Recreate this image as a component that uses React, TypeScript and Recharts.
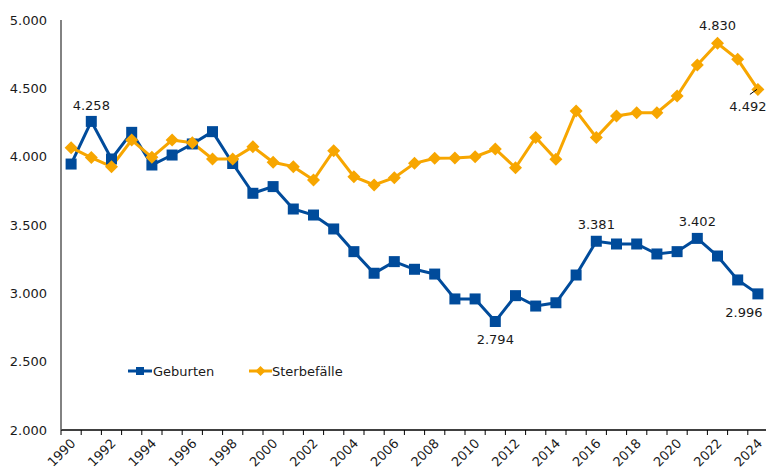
import React from 'react';
import { LineChart, Line, XAxis, YAxis, Legend, LabelList } from 'recharts';

const years = [
  1990, 1991, 1992, 1993, 1994, 1995, 1996, 1997, 1998, 1999,
  2000, 2001, 2002, 2003, 2004, 2005, 2006, 2007, 2008, 2009,
  2010, 2011, 2012, 2013, 2014, 2015, 2016, 2017, 2018, 2019,
  2020, 2021, 2022, 2023, 2024,
];

const geburten = [
  3946, 4258, 3983, 4178, 3939, 4012, 4093, 4183, 3950, 3732,
  3781, 3617, 3573, 3471, 3305, 3147, 3232, 3176, 3141, 2959,
  2959, 2794, 2983, 2907, 2931, 3134, 3381, 3361, 3361, 3288,
  3305, 3402, 3273, 3098, 2996,
];

const sterbefaelle = [
  4066, 3993, 3927, 4122, 3995, 4122, 4102, 3983, 3983, 4073,
  3959, 3927, 3829, 4044, 3853, 3793, 3846, 3951, 3988, 3990,
  4000, 4056, 3919, 4141, 3981, 4334, 4141, 4298, 4322, 4322,
  4444, 4671, 4830, 4712, 4492,
];

const yTicks = [2000, 2500, 3000, 3500, 4000, 4500, 5000];

const geburtenLabelYears = [1991, 2011, 2016, 2021, 2024];
const sterbeLabelYears = [2022, 2024];

const data = years.map((year, i) => ({
  year,
  geburten: geburten[i],
  sterbefaelle: sterbefaelle[i],
}));

const BLUE = '#004B9B';
const ORANGE = '#F7A600';
const FONT = 'DejaVu Sans, Verdana, sans-serif';

const fmt = (v: number) => {
  const s = String(Math.round(v));
  return s.length > 3 ? s.slice(0, -3) + '.' + s.slice(-3) : s;
};

const SquareDot = (props: any) => {
  const { cx, cy } = props;
  if (cx == null || cy == null) return null;
  return <rect x={cx - 5.5} y={cy - 5.5} width={11} height={11} fill={BLUE} />;
};

const DiamondDot = (props: any) => {
  const { cx, cy } = props;
  if (cx == null || cy == null) return null;
  const r = 6.5;
  return (
    <polygon
      points={`${cx},${cy - r} ${cx + r},${cy} ${cx},${cy + r} ${cx - r},${cy}`}
      fill={ORANGE}
    />
  );
};

const XTick = (props: any) => {
  const { x, y, payload } = props;
  const half = payload && payload.offset != null ? payload.offset : 0;
  const year = Number(payload.value);
  return (
    <g>
      <line x1={x - half} x2={x - half} y1={y} y2={y + 5} stroke="#000" strokeWidth={1} />
      {year % 2 === 0 && (
        <text
          x={x + 2}
          y={y + 11}
          textAnchor="end"
          dy="0.35em"
          fontSize={13}
          fontFamily={FONT}
          fill="#1a1a1a"
          transform={`rotate(-45, ${x + 2}, ${y + 11})`}
        >
          {year}
        </text>
      )}
    </g>
  );
};

const makeGebLabel = (props: any) => {
  const { x, y, value, index } = props;
  const yr = years[index];
  if (!geburtenLabelYears.includes(yr)) return null;
  let dx = 0;
  let dy = -17;
  if (yr === 2011) dy = 18;
  if (yr === 2024) {
    dx = -14;
    dy = 19;
  }
  if (yr === 1991) dy = -16;
  return (
    <text
      x={x + dx}
      y={y + dy}
      textAnchor="middle"
      dy="0.35em"
      fontSize={13}
      fontFamily={FONT}
      fill="#1a1a1a"
    >
      {fmt(value)}
    </text>
  );
};

const makeSterbeLabel = (props: any) => {
  const { x, y, value, index } = props;
  const yr = years[index];
  if (!sterbeLabelYears.includes(yr)) return null;
  if (yr === 2024) {
    return (
      <g>
        <line x1={x - 8} y1={y + 5} x2={x - 1} y2={y} stroke="#000" strokeWidth={1} />
        <text
          x={x - 10}
          y={y + 17}
          textAnchor="middle"
          dy="0.35em"
          fontSize={13}
          fontFamily={FONT}
          fill="#1a1a1a"
        >
          {fmt(value)}
        </text>
      </g>
    );
  }
  return (
    <text
      x={x}
      y={y - 18}
      textAnchor="middle"
      dy="0.35em"
      fontSize={13}
      fontFamily={FONT}
      fill="#1a1a1a"
    >
      {fmt(value)}
    </text>
  );
};

const LegendContent = () => (
  <svg width={260} height={20} style={{ overflow: 'visible', display: 'block' }}>
    <line x1={0} y1={10} x2={24} y2={10} stroke={BLUE} strokeWidth={3} />
    <rect x={8} y={6} width={8} height={8} fill={BLUE} />
    <text x={25} y={10} dy="0.35em" fontSize={13} fontFamily={FONT} fill="#1a1a1a">
      Geburten
    </text>
    <line x1={121} y1={10} x2={144} y2={10} stroke={ORANGE} strokeWidth={3} />
    <polygon points="132.5,5 137.5,10 132.5,15 127.5,10" fill={ORANGE} />
    <text x={144} y={10} dy="0.35em" fontSize={13} fontFamily={FONT} fill="#1a1a1a">
      Sterbefälle
    </text>
  </svg>
);

export default function App() {
  return (
    <div
      style={{
        position: 'absolute',
        left: 0,
        top: 0,
        width: 766,
        height: 472,
        overflow: 'hidden',
        background: '#fff',
      }}
    >
      <LineChart
        width={770}
        height={472}
        data={data}
        margin={{ top: 20, right: 2, bottom: 0, left: 0 }}
      >
        <XAxis
          dataKey="year"
          type="category"
          scale="band"
          interval={0}
          height={42}
          tickSize={0}
          tickMargin={0}
          tickLine={false}
          axisLine={{ stroke: '#000', strokeWidth: 1.5 }}
          tick={<XTick />}
        />
        <YAxis
          width={61}
          domain={[2000, 5000]}
          ticks={yTicks}
          tickFormatter={fmt}
          tickLine={false}
          tickSize={6}
          tickMargin={8}
          axisLine={{ stroke: '#595959', strokeWidth: 1.5 }}
          tick={{ fontSize: 13, fontFamily: FONT, fill: '#1a1a1a' }}
        />
        <Legend
          layout="horizontal"
          verticalAlign="middle"
          align="center"
          content={<LegendContent />}
          wrapperStyle={{ position: 'absolute', left: 128, top: 361, width: 260, height: 20 }}
        />
        <Line
          type="linear"
          dataKey="geburten"
          name="Geburten"
          stroke={BLUE}
          strokeWidth={3}
          dot={<SquareDot />}
          activeDot={false}
          isAnimationActive={false}
        >
          <LabelList dataKey="geburten" content={makeGebLabel} />
        </Line>
        <Line
          type="linear"
          dataKey="sterbefaelle"
          name="Sterbefälle"
          stroke={ORANGE}
          strokeWidth={3}
          dot={<DiamondDot />}
          activeDot={false}
          isAnimationActive={false}
        >
          <LabelList dataKey="sterbefaelle" content={makeSterbeLabel} />
        </Line>
      </LineChart>
    </div>
  );
}
